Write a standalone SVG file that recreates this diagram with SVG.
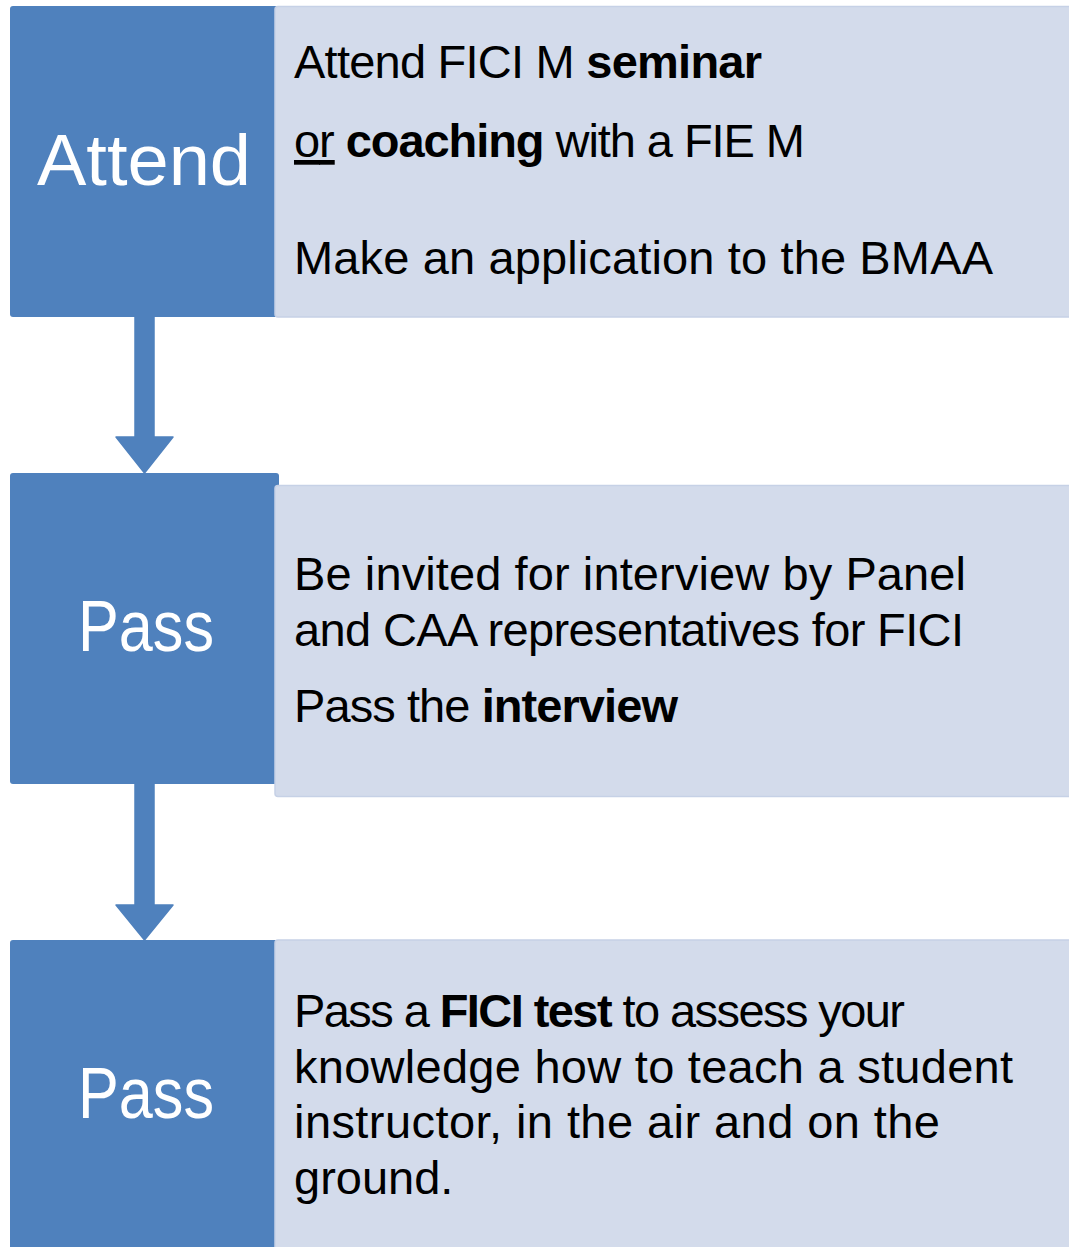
<svg xmlns="http://www.w3.org/2000/svg" width="1069" height="1247" viewBox="0 0 1069 1247">
  <style>
    .dark { fill: #4F81BD; }
    .light { fill: #D3DBEB; stroke: #C6D1E6; stroke-width: 1.5; }
    .big { font-family: "Liberation Sans", Arial, sans-serif; font-size: 72px; fill: #FFFFFF; text-anchor: middle; }
    .body { font-family: "Liberation Sans", Arial, sans-serif; font-size: 47px; fill: #000000; }
    .b { font-weight: bold; }
    .arrow { fill: #4F81BD; stroke: #4F81BD; stroke-width: 1.5; stroke-linejoin: round; }
  </style>
  <rect width="1069" height="1247" fill="#FFFFFF"/>

  <g id="connectors">
    <path class="arrow" d="M135,316 L154,316 L154,437 L173,437 L144.5,473 L116,437 L135,437 Z"/>
    <path class="arrow" d="M135,783 L154,783 L154,905 L173,905 L144.5,940 L116,905 L135,905 Z"/>
  </g>

  <g id="node-attend">
    <rect class="dark" x="10" y="6" width="269" height="311" rx="3"/>
    <text class="big" x="144" y="185" textLength="214" lengthAdjust="spacingAndGlyphs">Attend</text>
  </g>
  <g id="node-attend-detail">
    <rect class="light" x="275" y="6.5" width="800" height="310.5" rx="3"/>
    <text class="body" x="294" y="78" textLength="468">Attend FICI M <tspan class="b">seminar</tspan></text>
    <text class="body" x="294" y="157" textLength="511"><tspan text-decoration="underline">or</tspan> <tspan class="b">coaching</tspan> with a FIE M</text>
    <text class="body" x="294" y="274" textLength="699">Make an application to the BMAA</text>
  </g>

  <g id="node-pass-interview">
    <rect class="dark" x="10" y="473" width="269" height="311" rx="3"/>
    <text class="big" x="146" y="651" textLength="136" lengthAdjust="spacingAndGlyphs">Pass</text>
  </g>
  <g id="node-pass-interview-detail">
    <rect class="light" x="275" y="485.5" width="800" height="311" rx="3"/>
    <text class="body" x="294" y="590" textLength="672">Be invited for interview by Panel</text>
    <text class="body" x="294" y="646" textLength="670">and CAA representatives for FICI</text>
    <text class="body" x="294" y="722" textLength="384">Pass the <tspan class="b">interview</tspan></text>
  </g>

  <g id="node-pass-test">
    <rect class="dark" x="10" y="940" width="269" height="320" rx="3"/>
    <text class="big" x="146" y="1118" textLength="136" lengthAdjust="spacingAndGlyphs">Pass</text>
  </g>
  <g id="node-pass-test-detail">
    <rect class="light" x="275" y="940" width="800" height="320" rx="3"/>
    <text class="body" x="294" y="1027" textLength="611">Pass a <tspan class="b">FICI test</tspan> to assess your</text>
    <text class="body" x="294" y="1083" textLength="719">knowledge how to teach a student</text>
    <text class="body" x="294" y="1138" textLength="646">instructor, in the air and on the</text>
    <text class="body" x="294" y="1194">ground.</text>
  </g>
</svg>
